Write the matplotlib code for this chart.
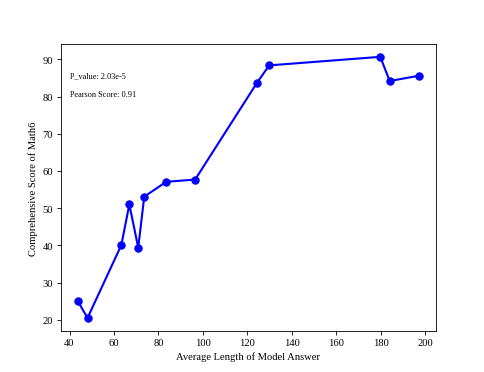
import matplotlib
matplotlib.use("Agg")
import matplotlib.pyplot as plt

plt.rcParams['font.family'] = ['Liberation Serif', 'DejaVu Serif']

avg_length = [43.6, 48.1, 63.3, 66.9, 70.9, 73.6, 83.5, 96.5, 124.3, 129.8, 179.8, 184.0, 197.0]
scores = [25.1, 20.5, 40.1, 51.0, 39.4, 53.1, 57.1, 57.7, 83.7, 88.4, 90.7, 84.2, 85.6]
p_text = "P_value: 2.03e-5"
r_text = "Pearson Score: 0.91"

fig = plt.figure(figsize=(6.4, 4.932), dpi=75.625)
ax = fig.add_subplot(111)
ax.plot(avg_length, scores, color='blue', marker='o', linewidth=2, markersize=7)
ax.set_xlabel("Average Length of Model Answer", fontsize=10)
ax.set_ylabel("Comprehensive Score of Math6", fontsize=10)
ax.tick_params(labelsize=10)
ax.text(0.025, 0.89, p_text, transform=ax.transAxes, fontsize=7.8, va='center')
ax.text(0.025, 0.825, r_text, transform=ax.transAxes, fontsize=7.8, va='center')
fig.savefig("out.png", dpi=75.625)
